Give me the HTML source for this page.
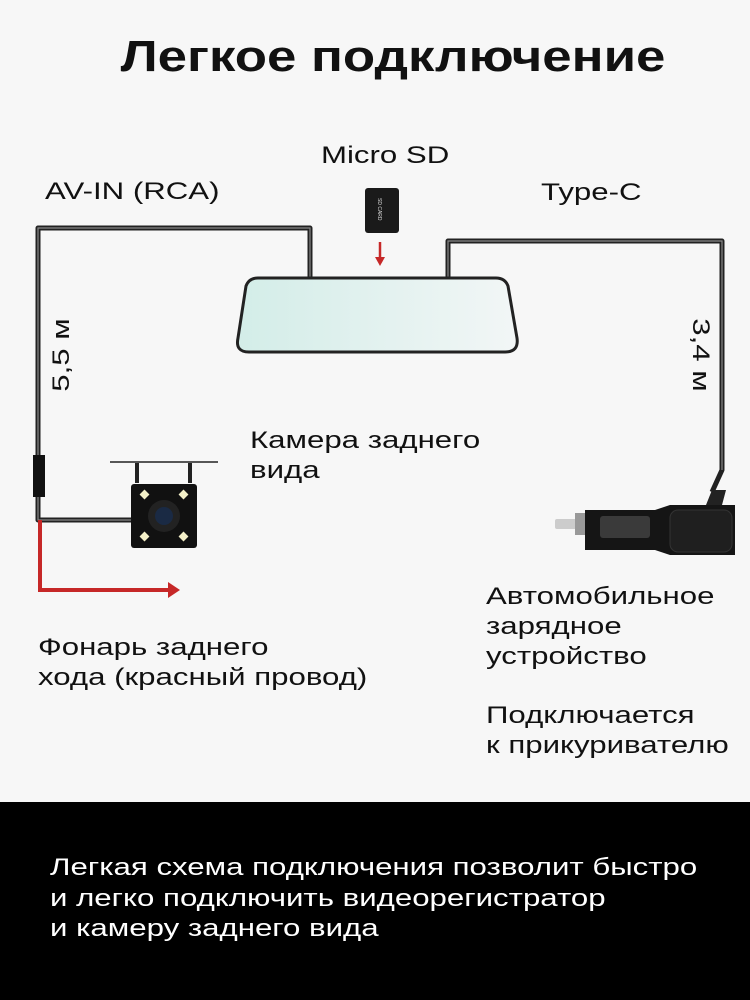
<!DOCTYPE html>
<html><head><meta charset="utf-8"><style>
body{margin:0;width:750px;height:1000px;background:#f7f7f7;position:relative;overflow:hidden;font-family:"Liberation Sans",sans-serif;color:#111}
.t{position:absolute;font-size:24px;line-height:30px;white-space:nowrap;transform:scaleX(1.3);transform-origin:0 0}
#title{position:absolute;top:32px;left:0;width:786px;text-align:center;font-size:44px;font-weight:bold;transform:scaleX(1.2);transform-origin:393px 0}
#band{position:absolute;left:0;top:802px;width:750px;height:198px;background:#000}
#band div{position:absolute;left:50px;color:#fff;font-size:24px;line-height:30px;white-space:nowrap;transform:scaleX(1.3);transform-origin:0 0}
</style></head><body>
<div id="title">Легкое подключение</div>
<svg width="750" height="800" style="position:absolute;left:0;top:0">
<defs><linearGradient id="g" x1="0" x2="1"><stop offset="0" stop-color="#d3ede8"/><stop offset="1" stop-color="#f2f6f6"/></linearGradient></defs>
<g fill="none" stroke="#222" stroke-width="5" stroke-linejoin="round">
<path d="M310,278 V228 H38 V520 H133"/>
<path d="M448,278 V241 H722 V470 L712,492"/>
</g>
<g fill="none" stroke="#888" stroke-width="1.2">
<path d="M310,278 V228 H38 V520 H133"/><path d="M448,278 V241 H722 V470"/>
</g>
<rect x="33" y="455" width="12" height="42" fill="#111"/>
<path d="M40,520 V590 H170" fill="none" stroke="#c62828" stroke-width="4"/>
<path d="M168,582 L180,590 L168,598Z" fill="#c62828"/>
<path d="M258,278 H496 Q505,278 508,286 L517,338 Q519,352 505,352 H249 Q235,352 238,338 L246,286 Q249,278 258,278Z" fill="url(#g)" stroke="#222" stroke-width="3"/>
<rect x="365" y="188" width="34" height="45" rx="3" fill="#1a1a1a"/>
<text x="0" y="0" transform="translate(378,198) rotate(90)" font-size="5" fill="#ddd" font-family="Liberation Sans">SD CARD</text>
<path d="M380,242 V258" stroke="#c62828" stroke-width="2.5"/><path d="M375,257 L380,266 L385,257Z" fill="#c62828"/>
<line x1="110" y1="462" x2="218" y2="462" stroke="#222" stroke-width="1.5"/>
<rect x="135" y="463" width="4" height="20" fill="#222"/><rect x="188" y="463" width="4" height="20" fill="#222"/>
<rect x="131" y="484" width="66" height="64" rx="3" fill="#111"/>
<circle cx="164" cy="516" r="16" fill="#222"/><circle cx="164" cy="516" r="9" fill="#1a2a44"/>
<g fill="#f4f0c8"><rect x="141" y="491" width="7" height="7" transform="rotate(45 144.5 494.5)"/><rect x="180" y="491" width="7" height="7" transform="rotate(45 183.5 494.5)"/><rect x="141" y="533" width="7" height="7" transform="rotate(45 144.5 536.5)"/><rect x="180" y="533" width="7" height="7" transform="rotate(45 183.5 536.5)"/></g>
<rect x="555" y="519" width="22" height="10" rx="2" fill="#ccc"/>
<rect x="575" y="513" width="10" height="22" fill="#999"/>
<path d="M585,510 H655 L670,505 H735 V555 H670 L655,550 H585Z" fill="#151515"/>
<rect x="600" y="516" width="50" height="22" rx="3" fill="#3a3a3a"/>
<rect x="670" y="510" width="62" height="42" rx="8" fill="#1f1f1f" stroke="#333"/>
<path d="M712,490 L706,505 H722 L726,490Z" fill="#222"/>
</svg>
<div class="t" style="left:321px;top:141px">Micro SD</div>
<div class="t" style="left:45px;top:177px">AV-IN (RCA)</div>
<div class="t" style="left:541px;top:178px">Type-C</div>
<div class="t" style="left:62px;top:355px;transform:translate(-50%,-50%) rotate(-90deg) scaleX(1.3);transform-origin:center">5,5 м</div>
<div class="t" style="left:700px;top:355px;transform:translate(-50%,-50%) rotate(90deg) scaleX(1.3);transform-origin:center">3,4 м</div>
<div class="t" style="left:250px;top:426px">Камера заднего<br>вида</div>
<div class="t" style="left:38px;top:633px">Фонарь заднего<br>хода (красный провод)</div>
<div class="t" style="left:486px;top:582px">Автомобильное<br>зарядное<br>устройство</div>
<div class="t" style="left:486px;top:701px">Подключается<br>к прикуривателю</div>
<div id="band">
<div style="top:51px">Легкая схема подключения позволит быстро</div>
<div style="top:82px">и легко подключить видеорегистратор</div>
<div style="top:112px">и камеру заднего вида</div>
</div>
</body></html>
